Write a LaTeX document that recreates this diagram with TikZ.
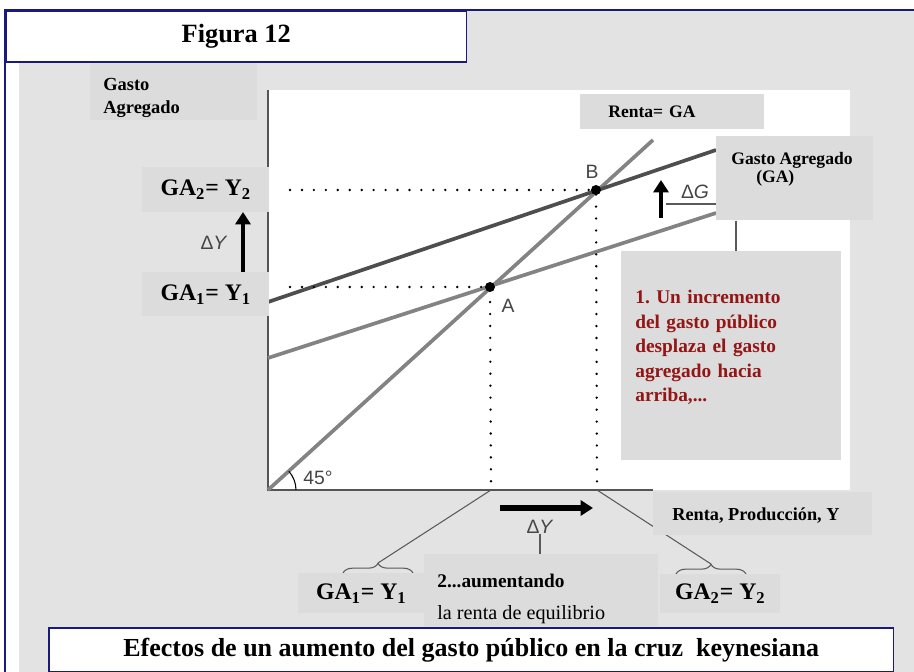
\documentclass[tikz,border=0pt]{standalone}
\usepackage{fontspec}
\setmainfont{Liberation Serif}
\setsansfont{Liberation Sans}
\usepackage{xcolor}
\usepackage{tikz}
\usetikzlibrary{arrows.meta, decorations.pathreplacing, calc}
\definecolor{panelgray}{HTML}{E3E3E3}
\definecolor{boxgray}{HTML}{DCDCDC}
\definecolor{navy}{HTML}{1A1A7E}
\definecolor{notered}{HTML}{931515}
\definecolor{axisgray}{HTML}{555555}
\definecolor{lightline}{HTML}{838383}
\definecolor{darkline}{HTML}{4E4E4E}
\definecolor{symgray}{HTML}{454545}
\definecolor{leadgray}{HTML}{5A5A5A}

\begin{document}
\begin{tikzpicture}[x=0.02cm, y=-0.02cm,
    gbox/.style={fill=boxgray, inner sep=0pt, anchor=north west},
    navybox/.style={draw=navy, line width=0.9pt, fill=white, inner sep=0pt, anchor=north west},
    bigtxt/.style={font=\fontsize{13.5}{15}\selectfont\bfseries},
    smalltxt/.style={font=\fontsize{10}{10}\selectfont\bfseries},
    symtxt/.style={font=\sffamily\fontsize{11}{12}\selectfont, text=symgray, inner sep=0pt},
    thickarrow/.style={line width=#1, -{Triangle[length=7pt, width=8.5pt]}},
    curve/.style={line width=2.1pt, draw=#1},
    dotline/.style={line width=1.5pt, line cap=round, dash pattern=on 0pt off 6.8pt},
    leader/.style={draw=leadgray, line width=0.6pt},
    dot/.style={circle, fill=black, inner sep=0pt, minimum size=0.2cm},
]
    \useasboundingbox (0,0) rectangle (914,672);

    % Frame and panel
    \fill[panelgray, rounded corners=5pt] (19,11) rectangle (960,720);
    \draw[navy, line width=0.8pt] (5,700) -- (5,10) -- (940,10);
    \fill[white] (268,90) rectangle (850,490);

    % Axes and curves
    \coordinate (O) at (268,490);
    \draw[axisgray, line width=0.9pt] (268,90) -- (O) -- (653,490);
    \draw[curve=lightline] (O) -- (653,140);
    \draw[curve=lightline] (268,358) -- (716,213);
    \draw[curve=darkline] (268,302) -- (716,150);
    \draw[line width=0.6pt] (296,490) arc[start angle=0, end angle=-42, radius=28];
    \node[symtxt, anchor=west] (ang) at (303,478) {45°};

    % Equilibria
    \node[dot] (ptA) at (490,287) {};
    \node[dot] (ptB) at (596,190) {};
    \node[symtxt] (labA) at (508,306) {A};
    \node[symtxt] (labB) at (592,172) {B};
    \coordinate (y1) at (290,287);
    \coordinate (y2) at (290,190);
    \coordinate (x1) at (491,490);
    \coordinate (x2) at (597,490);
    \draw[dotline] (y1) -- (ptA.center) -- (x1);
    \draw[dotline] (y2) -- (ptB.center) -- (x2);

    % Shifts
    \coordinate (dyl0) at (243,272);
    \coordinate (dyl1) at (243,212);
    \draw[thickarrow=2.3pt] (dyl0) -- (dyl1);
    \node[symtxt] (dyl) at (214,243) {Δ\textit{Y}};
    \coordinate (dg0) at (661,218);
    \coordinate (dg1) at (661,180);
    \draw[thickarrow=2.3pt] (dg0) -- (dg1);
    \node[symtxt] (dg) at (695,192) {Δ\textit{G}};
    \coordinate (dyb0) at (500,508);
    \coordinate (dyb1) at (593,508);
    \draw[thickarrow=3pt] (dyb0) -- (dyb1);
    \node[symtxt] (dyb) at (540,527) {Δ\textit{Y}};

    % Braces
    \coordinate (br1) at (378,563);
    \coordinate (br2) at (711,564);
    \draw[leader] (x1) -- (br1);
    \draw[leader] (x2) -- (br2);
    \draw[leader, decorate, decoration={brace, amplitude=5.5pt}] (343,573) -- (413,573);
    \draw[leader, decorate, decoration={brace, amplitude=5.5pt}] (676,574) -- (746,574);

    % Boxes
    \node[gbox, minimum width=3.34cm, minimum height=1.16cm] (yaxis) at (90,62) {};
    \node[anchor=north west, inner sep=0pt, align=left,
          font=\fontsize{10.5}{13}\selectfont\bfseries] (yaxistxt) at (103,78) {Gasto\\Agregado};
    \node[gbox, minimum width=2.54cm, minimum height=0.9cm, bigtxt] (ga2) at (142,167)
        {GA\textsubscript{2}= Y\textsubscript{2}};
    \node[gbox, minimum width=2.54cm, minimum height=0.88cm, bigtxt] (ga1) at (142,272)
        {GA\textsubscript{1}= Y\textsubscript{1}};
    \node[gbox, minimum width=3.68cm, minimum height=0.7cm, text width=2.56cm, align=left,
          smalltxt] (renta) at (580,94) {Renta= GA};
    \node[gbox, minimum width=3.14cm, minimum height=1.68cm] (gabox) at (716,136) {};
    \node[smalltxt, align=center, inner sep=0pt] (gatxt) at (792,169)
        {Gasto Agregado\\(GA)\hspace*{19pt}};
    \node[gbox, minimum width=4.4cm, minimum height=4.18cm] (note1) at (621,251) {};
    \node[anchor=north west, inner sep=0pt, text width=4cm, align=left, text=notered,
          font=\fontsize{11}{13.9}\selectfont\bfseries] (note1txt) at (635,290)
        {1.\ Un incremento\\del gasto público\\desplaza el gasto\\agregado hacia\\arriba,...};
    \node[gbox, minimum width=4.38cm, minimum height=0.86cm] (xaxis) at (653,492) {};
    \node[anchor=west, inner sep=0pt, font=\fontsize{10.4}{12}\selectfont\bfseries] (xaxistxt)
        at (672,516) {Renta, Producción, Y};
    \node[gbox, minimum width=2.52cm, minimum height=0.8cm, bigtxt] (ga1b) at (298,573)
        {GA\textsubscript{1}= Y\textsubscript{1}};
    \node[gbox, minimum width=2.4cm, minimum height=0.78cm, bigtxt] (ga2b) at (660,574)
        {GA\textsubscript{2}= Y\textsubscript{2}};
    \node[gbox, minimum width=4.68cm, minimum height=1.44cm] (note2) at (424,554) {};
    \node[anchor=north west, inner sep=0pt, align=left] (note2txt) at (437,574)
        {\fontsize{11}{13}\selectfont\bfseries 2...aumentando\\[6pt]
         \fontsize{11.5}{13}\selectfont la renta de equilibrio};
    \coordinate (dgl) at (666,204);
    \draw[leader] (dgl) -- (gabox.west |- dgl);
    \draw[leader] (gabox.south -| 736,0) -- (note1.north -| 736,0);
    \draw[leader] (dyb.south) -- (note2.north -| dyb.south);

    % Titles
    \node[navybox, minimum width=9.22cm, minimum height=1.02cm,
          font=\fontsize{15}{17}\selectfont\bfseries] (fig) at (5,10) {Figura 12};
    \node[navybox, minimum width=16.9cm, minimum height=0.88cm,
          font=\fontsize{14.8}{17}\selectfont\bfseries] (caption) at (48,627)
        {Efectos de un aumento del gasto público en la cruz\ \ keynesiana};
\end{tikzpicture}
\end{document}
